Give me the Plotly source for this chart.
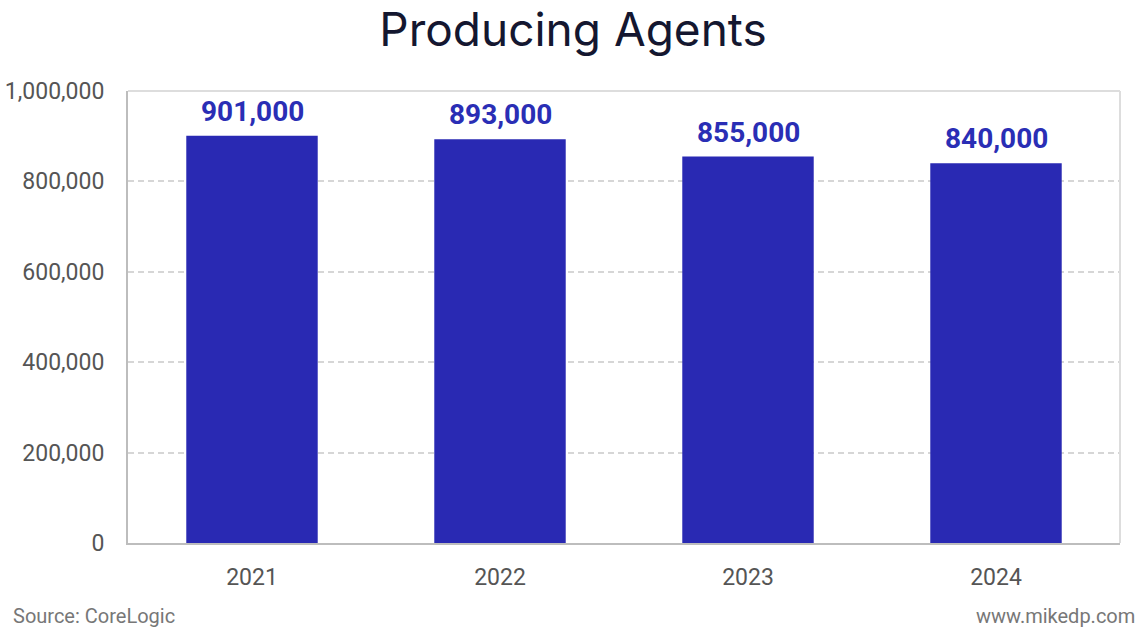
import plotly.graph_objects as go

years = ["2021", "2022", "2023", "2024"]
agents = [901000, 893000, 855000, 840000]
labels = ["901,000", "893,000", "855,000", "840,000"]
y_ticks = [0, 200000, 400000, 600000, 800000, 1000000]
y_tick_text = ["0", "200,000", "400,000", "600,000", "800,000", "1,000,000"]

BAR = "#2929b3"

fig = go.Figure()
fig.add_trace(go.Bar(
    x=years, y=agents, width=0.53,
    marker=dict(color=BAR, line=dict(width=0)),
    hoverinfo="skip",
))
for i, (v, lab) in enumerate(zip(agents, labels)):
    fig.add_annotation(x=i, y=v, text=lab, showarrow=False, yanchor="bottom",
                       yshift=6, xref="x", yref="y",
                       font=dict(family="Roboto", size=28, color="#2a2eb5", weight="bold"))

fig.update_layout(
    width=1146, height=632,
    margin=dict(l=128, r=26, t=91, b=89, autoexpand=False),
    paper_bgcolor="white", plot_bgcolor="white",
    showlegend=False,
    title=dict(text="Producing Agents", x=0.5, xanchor="center", y=1 - 30/632, yanchor="middle",
               font=dict(family="Inter", size=46, color="#141730")),
)
fig.update_yaxes(
    range=[0, 1000000], tickvals=y_ticks, ticktext=y_tick_text,
    showgrid=True, gridcolor="#d6d6d6", griddash="6px,4px", gridwidth=2,
    zeroline=False, showline=True, linecolor="#bdbdbd", linewidth=2, mirror=False,
    ticks="", ticklabelstandoff=17, automargin=False,
    tickfont=dict(family="Roboto", size=23, color="#555555"),
)
fig.update_xaxes(
    type="category", range=[-0.5, len(years) - 0.5],
    showline=True, linecolor="#bdbdbd", linewidth=2, ticks="", ticklabelstandoff=12,
    automargin=False,
    tickfont=dict(family="Roboto", size=23, color="#555555"),
)
fig.add_shape(type="line", xref="paper", yref="paper", x0=0, x1=1, y0=1, y1=1,
              line=dict(color="#dddddd", width=2))
fig.add_shape(type="line", xref="paper", yref="paper", x0=1, x1=1, y0=0, y1=1,
              line=dict(color="#dddddd", width=2))

fig.add_annotation(text="Source: CoreLogic", xref="paper", yref="paper",
                   x=-117/992, y=-73/452, xanchor="left", yanchor="middle",
                   showarrow=False, font=dict(family="Roboto", size=20, color="#777777"))
fig.add_annotation(text="www.mikedp.com", xref="paper", yref="paper",
                   x=1 + 17/992, y=-73/452, xanchor="right", yanchor="middle",
                   showarrow=False, font=dict(family="Roboto", size=20, color="#777777"))

fig.write_html("out.html", config={"displayModeBar": False},
               post_script="document.body.style.margin='0';")
